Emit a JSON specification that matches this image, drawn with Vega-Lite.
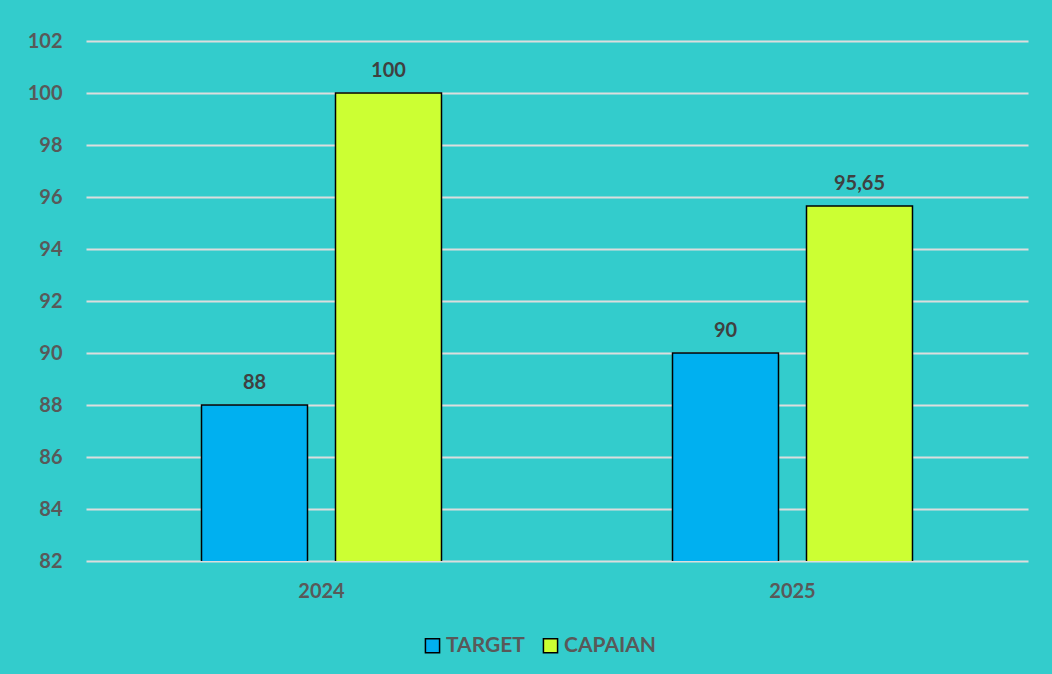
{
  "$schema": "https://vega.github.io/schema/vega-lite/v6.json",
  "width": 942,
  "height": 520,
  "autosize": {"type": "none"},
  "padding": {"left": 86, "top": 41, "right": 24, "bottom": 113},
  "background": "#33CCCC",
  "config": {
    "view": {"stroke": null},
    "font": "Lato",
    "axis": {"labelFont": "Lato", "labelFontWeight": "bold", "labelColor": "#595959", "labelFontSize": 20}
  },
  "data": {
    "values": [
      {"tahun": "2024", "seri": "TARGET", "nilai": 88, "label": "88"},
      {"tahun": "2024", "seri": "CAPAIAN", "nilai": 100, "label": "100"},
      {"tahun": "2025", "seri": "TARGET", "nilai": 90, "label": "90"},
      {"tahun": "2025", "seri": "CAPAIAN", "nilai": 95.65, "label": "95,65"}
    ]
  },
  "encoding": {
    "x": {
      "field": "tahun", "type": "nominal",
      "scale": {"paddingInner": 0, "paddingOuter": 0},
      "axis": {"title": null, "labelAngle": 0, "ticks": false, "domain": false, "labelPadding": 20, "grid": false}
    },
    "xOffset": {
      "field": "seri", "type": "nominal", "sort": ["TARGET", "CAPAIAN"],
      "scale": {"paddingInner": 0.209, "paddingOuter": 0.862}
    },
    "y": {
      "field": "nilai", "type": "quantitative",
      "scale": {"domain": [82, 102], "nice": false, "zero": false},
      "axis": {"title": null, "values": [82, 84, 86, 88, 90, 92, 94, 96, 98, 100, 102], "ticks": false, "domain": false, "labelPadding": 24, "gridColor": "#DDDDDD", "gridWidth": 2}
    }
  },
  "layer": [
    {
      "mark": {"type": "bar", "stroke": "#000000", "strokeWidth": 1.5, "clip": true},
      "encoding": {
        "color": {
          "field": "seri", "type": "nominal", "sort": ["TARGET", "CAPAIAN"],
          "scale": {"domain": ["TARGET", "CAPAIAN"], "range": ["#00B0F0", "#CCFF33"]},
          "legend": {
            "title": null, "orient": "none", "direction": "horizontal",
            "legendX": 336, "legendY": 594,
            "symbolType": "square", "symbolSize": 200, "symbolStrokeColor": "#000000", "symbolStrokeWidth": 1.5,
            "labelFont": "Lato", "labelFontWeight": "bold", "labelFontSize": 21, "labelColor": "#595959",
            "columnPadding": 15, "labelOffset": 3
          }
        }
      }
    },
    {
      "mark": {"type": "text", "dy": -12, "baseline": "bottom", "fontWeight": "bold", "fontSize": 20, "color": "#404040", "font": "Lato"},
      "encoding": {"text": {"field": "label"}}
    }
  ]
}
